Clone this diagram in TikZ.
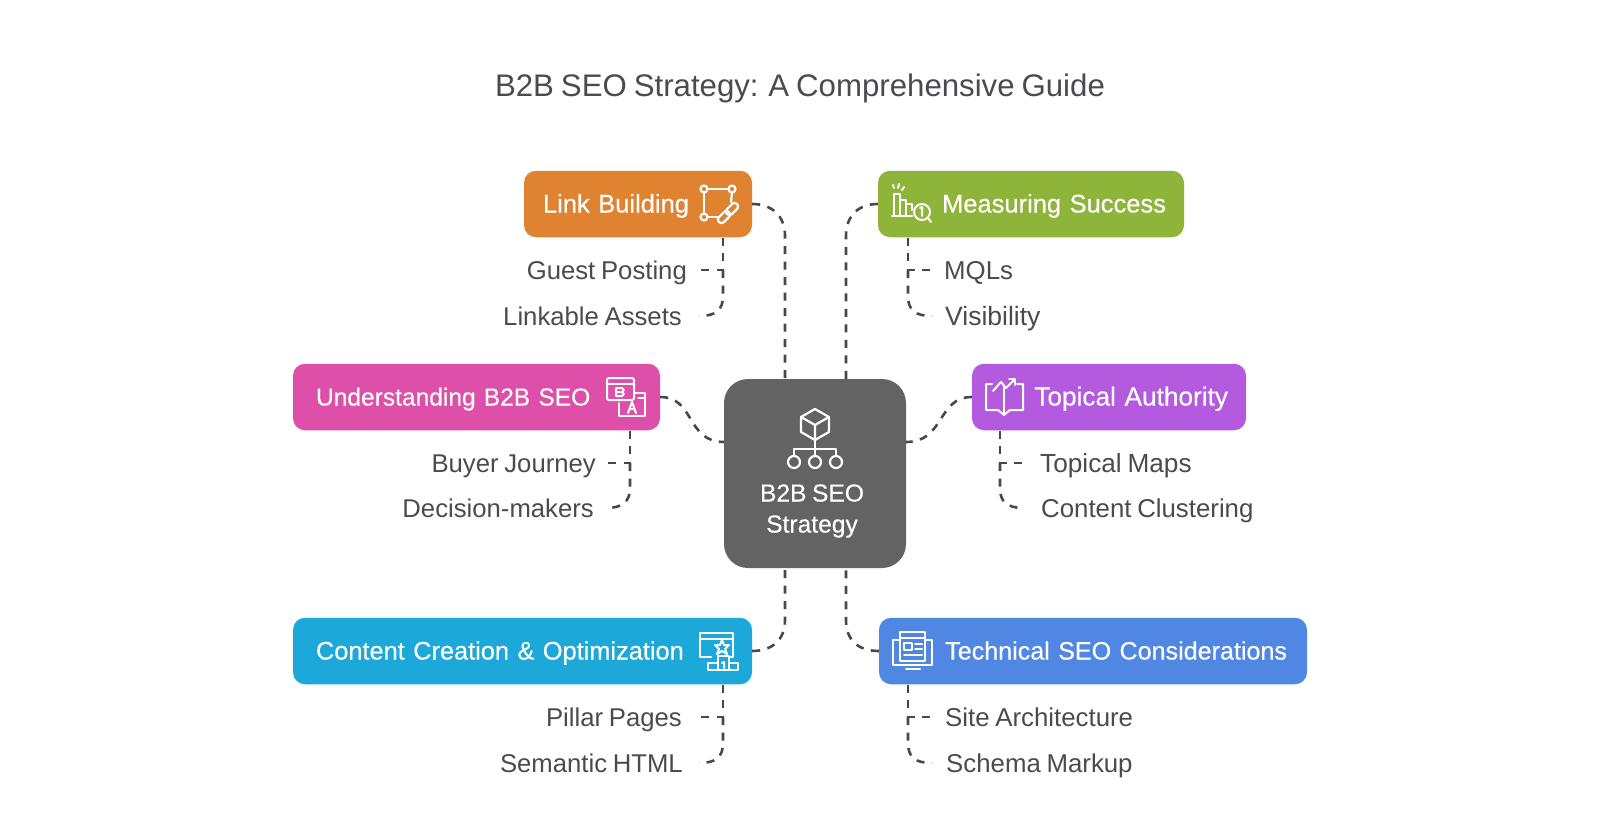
\documentclass[tikz,border=0pt]{standalone}
\usepackage{fontspec}
\setmainfont[WordSpace=0.8]{Liberation Sans}
\newfontfamily\medfont[FakeBold=0.4,WordSpace=0.8]{Liberation Sans}
\definecolor{ink}{HTML}{4A4B52}
\definecolor{dashc}{HTML}{47474C}
\definecolor{cOrange}{HTML}{DF8330}
\definecolor{cGreen}{HTML}{8FB43A}
\definecolor{cPink}{HTML}{DE4FA9}
\definecolor{cPurple}{HTML}{B35ADF}
\definecolor{cCyan}{HTML}{1CA9DA}
\definecolor{cBlue}{HTML}{4F87E3}
\definecolor{cGray}{HTML}{636363}
\tikzset{
  x=1pt,y=-1pt,
  boxnode/.style={rectangle,rounded corners=12pt,draw=none,text=white,minimum height=66.5pt,inner ysep=0pt,
    font=\medfont\fontsize{25.5}{30}\selectfont,text height=21pt,text depth=4pt,anchor=center},
  itemL/.style={anchor=east,inner ysep=0pt,inner xsep=6pt,text=ink,font=\fontsize{25.7}{30}\selectfont,text height=21pt,text depth=3pt},
  itemR/.style={anchor=west,inner ysep=0pt,inner xsep=6pt,text=ink,font=\fontsize{25.8}{30}\selectfont,text height=21pt,text depth=3pt},
  conn/.style={draw=dashc,line width=2.6pt,dash pattern=on 8pt off 7.5pt},
  ico/.style={draw=white,line width=2.2pt,line join=round,line cap=round},
}
\begin{document}
\begin{tikzpicture}
\useasboundingbox (0,0) rectangle (1600,840);
\fill[white] (0,0) rectangle (1600,840);

\node[text=ink,font=\fontsize{31.2}{36}\selectfont] (title) at (800,88.5) {B2B SEO Strategy: A Comprehensive Guide};

% centre
\node[rectangle,rounded corners=24pt,fill=cGray,minimum width=182pt,minimum height=189pt,inner sep=0pt] (hub) at (815,473.5) {};
\node[align=center,text=white,font=\medfont\fontsize{24.6}{31}\selectfont,inner sep=0pt] (hubtext) at (812,511) {B2B SEO\\Strategy};

% boxes
\node[boxnode,fill=cOrange,inner xsep=19pt,text width=190pt,align=left] (lb) at (638,204) {Link Building};
\node[boxnode,fill=cGreen,inner xsep=18pt,text width=270pt,align=right] (ms) at (1031,204) {Measuring Success};
\node[boxnode,fill=cPink,inner xsep=23pt,text width=321pt,align=left,font=\medfont\fontsize{24.55}{30}\selectfont] (ub) at (476.5,397) {Understanding B2B SEO};
\node[boxnode,fill=cPurple,inner xsep=18pt,text width=238pt,align=right,font=\medfont\fontsize{26.2}{30}\selectfont] (ta) at (1109,397) {Topical Authority};
\node[boxnode,fill=cCyan,inner xsep=23pt,text width=413pt,align=left,font=\medfont\fontsize{25.35}{30}\selectfont] (cc) at (522.5,651) {Content Creation \& Optimization};
\node[boxnode,fill=cBlue,inner xsep=20pt,text width=388pt,align=right,font=\medfont\fontsize{25.1}{30}\selectfont] (ts) at (1093,651) {Technical SEO Considerations};

% items
\node[itemL] (i1) at (693,270) {Guest Posting};
\node[itemL] (i2) at (688,316) {Linkable Assets};
\node[itemR] (i3) at (938,270) {MQLs};
\node[itemR,font=\fontsize{26.5}{30}\selectfont] (i4) at (939,316) {Visibility};
\node[itemL] (i5) at (602,463) {Buyer Journey};
\node[itemL] (i6) at (600,508) {Decision-makers};
\node[itemR,font=\fontsize{26.2}{30}\selectfont] (i7) at (1034,463) {Topical Maps};
\node[itemR] (i8) at (1035,508) {Content Clustering};
\node[itemL] (i9) at (688,717) {Pillar Pages};
\node[itemL] (i10) at (689,763) {Semantic HTML};
\node[itemR] (i11) at (939,717) {Site Architecture};
\node[itemR] (i12) at (940,763) {Schema Markup};

% free ends
\coordinate (e1) at (701,270);
\coordinate (e2) at (699,316);
\coordinate (e3) at (932,270);
\coordinate (e4) at (932,316);
\coordinate (e5) at (608,463);
\coordinate (e6) at (606,508);
\coordinate (e7) at (1023,463);
\coordinate (e8) at (1024,508);
\coordinate (e9) at (700,717);
\coordinate (e10) at (699,763);
\coordinate (e11) at (932,717);
\coordinate (e12) at (932,763);

% main connectors
\path[conn] (lb.east) .. controls (772,204) and (785,216) .. (785,236) -- (785,379);
\path[conn] (ms.west) .. controls (858,204) and (846,216) .. (846,236) -- (846,379);
\path[conn] (ub.east) .. controls (695,397) and (686,442) .. (724,442);
\path[conn] (ta.west) .. controls (937,397) and (945,442) .. (906,442);
\path[conn] (cc.east) .. controls (772,651) and (785,640) .. (785,620) -- (785,568);
\path[conn] (ts.west) .. controls (858,651) and (846,640) .. (846,620) -- (846,568);

% sub connectors
\path[conn] (723,237.5) -- (723,270) -- (e1);
\path[conn] (723,270) -- (723,296) .. controls (723,310) and (716,316) .. (e2);
\path[conn] (908,237.5) -- (908,270) -- (e3);
\path[conn] (908,270) -- (908,296) .. controls (908,310) and (915,316) .. (e4);
\path[conn] (630,430.5) -- (630,463) -- (e5);
\path[conn] (630,463) -- (630,488) .. controls (630,502) and (622,508) .. (e6);
\path[conn] (1000,430.5) -- (1000,463) -- (e7);
\path[conn] (1000,463) -- (1000,488) .. controls (1000,502) and (1007,508) .. (e8);
\path[conn] (723,684.5) -- (723,717) -- (e9);
\path[conn] (723,717) -- (723,743) .. controls (723,757) and (716,763) .. (e10);
\path[conn] (908,684.5) -- (908,717) -- (e11);
\path[conn] (908,717) -- (908,743) .. controls (908,757) and (915,763) .. (e12);

% hub icon
\begin{scope}[ico]
\draw (815,409) -- (829,417) -- (829,432) -- (815,440) -- (801,432) -- (801,417) -- cycle;
\draw (801,417) -- (815,425) -- (829,417) (815,425) -- (815,440);
\draw (815,440) -- (815,455);
\draw (794,456) -- (794,449) -- (836,449) -- (836,456);
\draw (794,462) circle[radius=6];
\draw (815,462) circle[radius=6];
\draw (836,462) circle[radius=6];
\end{scope}

% link icon
\begin{scope}[ico]
\draw (704,189) circle[radius=3.5];
\draw (732,189) circle[radius=3.5];
\draw (704,217) circle[radius=3.5];
\draw (708,189) -- (728,189);
\draw (704,193) -- (704,213);
\draw (708,217) -- (718,217);
\draw (732,193) -- (731,202);
\draw[rounded corners=3pt,rotate around={45:(724,217)}] (717,213.5) rectangle (731,220.5);
\draw[rounded corners=3pt,rotate around={45:(732,209)}] (725,205.5) rectangle (739,212.5);
\end{scope}

% measuring icon
\begin{scope}[ico,line width=2pt]
\draw (894,216) -- (894,194) -- (900,194) -- (900,216);
\draw (900,200) -- (906,200) -- (906,216);
\draw (906,204) -- (912,204) -- (912,210);
\draw (892,216) -- (912,216);
\draw (894,188) -- (893,185) (898,188) -- (899,184) (902,190) -- (904,187);
\draw (922,212) circle[radius=8];
\draw (928,218) -- (931,222);
\draw (920,208) -- (922,207) -- (922,216);
\end{scope}

% understanding icon
\begin{scope}[ico,line width=2pt]
\draw[rounded corners=2pt] (607,378) rectangle (634,400);
\draw (607,384) -- (634,384);
\draw (616,396) -- (616,388) -- (622,388) -- (624,390) -- (622,392) -- (616,392) (622,392) -- (624,394) -- (622,396) -- (616,396);
\draw (634,393) -- (645,393) -- (645,416) -- (619,416) -- (619,403);
\draw (638,398) -- (645,398);
\draw (628,413) -- (632,402) -- (636,413) (629.5,409) -- (634.5,409);
\end{scope}

% topical icon
\begin{scope}[ico,line width=2pt]
\draw (992,384) -- (986,384) -- (986,410) -- (998,410) -- (1004,415) -- (1010,410) -- (1023,410) -- (1023,384) -- (1017,384);
\draw (1004,386) -- (1004,415);
\draw (993,391) -- (1001,382) -- (1006,388) -- (1014,380);
\draw (1009,379) -- (1015,379) -- (1015,385);
\end{scope}

% content icon
\begin{scope}[ico,line width=2pt]
\draw (730,657) -- (733,657) -- (733,633) -- (700,633) -- (700,657) -- (711,657);
\draw (700,639) -- (733,639);
\draw (722,640) -- (724,645) -- (729,645) -- (725,649) -- (727,654) -- (722,651) -- (717,654) -- (719,649) -- (715,645) -- (720,645) -- cycle;
\draw (708,670) -- (708,663) -- (718,663) -- (718,656) -- (729,656) -- (729,663) -- (738,663) -- (738,670) -- cycle;
\draw (718,663) -- (718,670) (729,663) -- (729,670);
\draw (722,663) -- (724,662) -- (724,668);
\end{scope}

% technical icon
\begin{scope}[ico,line width=2pt]
\draw (900,632) rectangle (925,661);
\draw (900,638) -- (925,638);
\draw (904,643) rectangle (912,650);
\draw (915,644) -- (922,644) (915,649) -- (922,649) (904,655) -- (922,655);
\draw (900,640) -- (893,640) -- (893,665) -- (932,665) -- (932,640) -- (925,640);
\draw (906,669) -- (920,669);
\end{scope}
\end{tikzpicture}
\end{document}
